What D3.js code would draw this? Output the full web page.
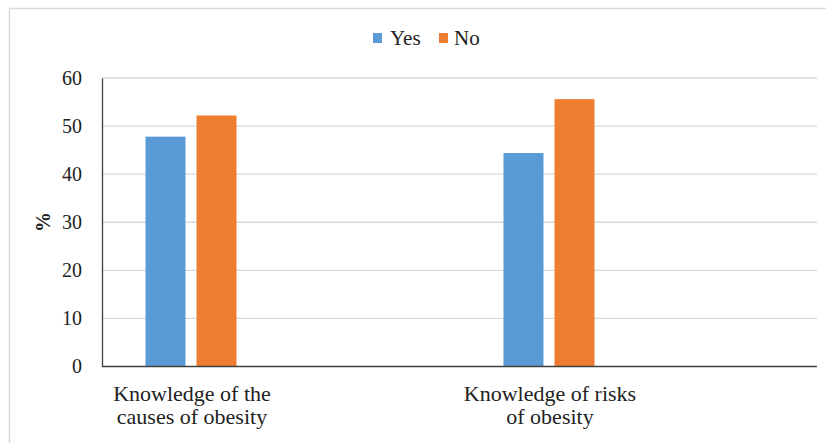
<!DOCTYPE html>
<html><head><meta charset="utf-8">
<script src="https://cdn.jsdelivr.net/npm/d3@7"></script>
<style>body{margin:0;background:#fff}svg{display:block}</style>
</head><body>
<script>
const categories = ["Knowledge of the causes of obesity", "Knowledge of risks of obesity"];
const categoryLines = [["Knowledge of the", "causes of obesity"], ["Knowledge of risks", "of obesity"]];
const seriesNames = ["Yes", "No"];
const yesValues = [47.8, 44.4];
const noValues = [52.2, 55.6];
const yTicks = [0, 10, 20, 30, 40, 50, 60];
const colors = ["#5b9bd5", "#ed7d31"];

const FONT = '"Liberation Serif", "Times New Roman", serif';
const W = 826, H = 443;
const svg = d3.select("body").append("svg").attr("width", W).attr("height", H)
  .style("font-family", FONT);

svg.append("rect").attr("x", 9.5).attr("y", 8.5).attr("width", 840).attr("height", 460)
  .attr("fill", "#fff").attr("stroke", "#d9d9d9").attr("stroke-width", 1.5);

const plotL = 102, plotR = 817, y0 = 366.5, yTop = 78;
const y = d3.scaleLinear().domain([0, 60]).range([y0, yTop]);
const xBars = d3.scaleBand().domain(categories).range([12, 728]);
const xSub = d3.scaleBand().domain(seriesNames).range([0, 91]).paddingInner(0.216);

svg.append("g").selectAll("line").data(yTicks.filter(t => t > 0)).join("line")
  .attr("x1", plotL).attr("x2", plotR).attr("y1", d => y(d)).attr("y2", d => y(d))
  .attr("stroke", "#d9d9d9").attr("stroke-width", 1.3);

const yAxis = svg.append("g").attr("transform", `translate(${plotL},0)`)
  .call(d3.axisLeft(y).tickValues(yTicks).tickSize(0).tickPadding(20));
yAxis.attr("font-family", null).attr("font-size", null);
yAxis.select(".domain").attr("stroke", "#404040").attr("stroke-width", 1.3);
yAxis.selectAll("text").style("font-family", FONT).style("font-size", "20px").attr("fill", "#222");

const data = categories.map((c, i) => ({c, vals: [yesValues[i], noValues[i]]}));
const groups = svg.append("g").selectAll("g").data(data).join("g")
  .attr("transform", d => `translate(${xBars(d.c) + xBars.bandwidth() / 2 - 45.5},0)`);
groups.selectAll("rect").data(d => d.vals.map((v, j) => ({s: seriesNames[j], v, j}))).join("rect")
  .attr("x", d => xSub(d.s)).attr("width", xSub.bandwidth())
  .attr("y", d => y(d.v)).attr("height", d => y0 - y(d.v))
  .attr("fill", d => colors[d.j]);

svg.append("line").attr("x1", plotL).attr("x2", plotR).attr("y1", y0).attr("y2", y0)
  .attr("stroke", "#404040").attr("stroke-width", 1.3);

categories.forEach((c, i) => {
  const cx = xBars(c) + xBars.bandwidth() / 2 + 1;
  const t = svg.append("text").attr("x", cx).attr("y", 401)
    .attr("text-anchor", "middle").style("font-family", FONT).style("font-size", "22px").attr("fill", "#222");
  categoryLines[i].forEach((ln, k) => t.append("tspan").attr("x", cx).attr("dy", k ? 23 : 0).text(ln));
});

svg.append("text").attr("transform", "translate(50,222) rotate(-90)").attr("text-anchor", "middle")
  .style("font-family", FONT).style("font-size", "20px").attr("font-weight", "bold").attr("fill", "#222").text("%");

const legX = [373, 439];
const lg = svg.append("g").selectAll("g").data(seriesNames).join("g")
  .attr("transform", (d, i) => `translate(${legX[i]},33)`);
lg.append("rect").attr("width", 9).attr("height", 10).attr("fill", (d, i) => colors[i]);
lg.append("text").attr("x", (d, i) => i ? 15 : 17).attr("y", 12).style("font-family", FONT).style("font-size", "21px").attr("fill", "#222").text(d => d);
</script>
</body></html>
